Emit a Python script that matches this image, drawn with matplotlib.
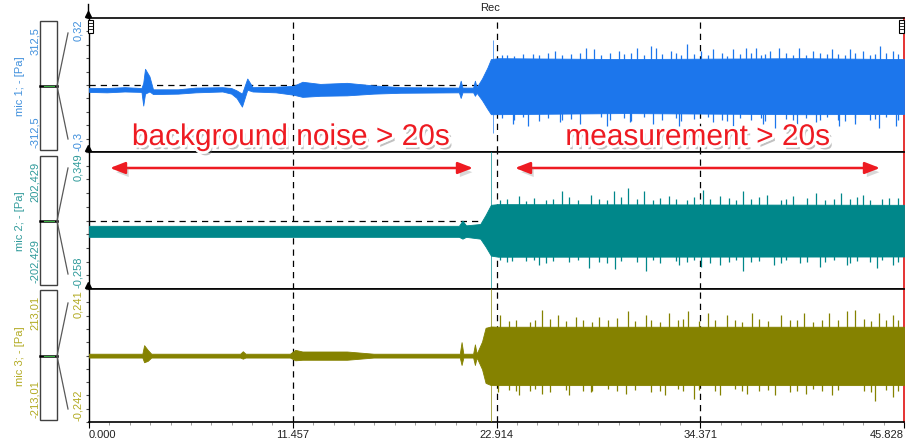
import matplotlib
matplotlib.use('Agg')
import matplotlib.pyplot as plt
import matplotlib.patheffects as pe
from matplotlib.ticker import AutoMinorLocator
import numpy as np

plt.rcParams['font.family'] = ['Liberation Sans', 'DejaVu Sans']

#------------------------- time axis
t_end = 45.828
x_ticks = [0.0, 11.457, 22.914, 34.371, 45.828]
x_labels = ['0.000', '11.457', '22.914', '34.371', '45.828']

#------------------------- channels
names = ['mic 1; - [Pa]', 'mic 2; - [Pa]', 'mic 3; - [Pa]']
y_top = [0.32, 0.349, 0.241]
y_bot = [-0.3, -0.258, -0.242]
top_labels = ['0,32', '0,349', '0,241']
bot_labels = ['-0,3', '-0,258', '-0,242']
scale_top = ['312,5', '202,429', '213,01']
scale_bot = ['-312,5', '-202,429', '-213,01']
colors = ['#1c76ec', '#00878a', '#858200']
label_colors = ['#3f8fdc', '#2f9a9a', '#b2aa22']

#------------------------- mic 1 envelope (time, upper, lower)
t1 = [0.0, 1.0, 2.0, 2.95, 3.05, 3.15, 3.4, 3.6, 5.0, 6.0, 7.5, 8.0, 8.3, 8.6, 8.9, 9.2,
      10.5, 11.5, 12.0, 13.0, 14.5, 16.0, 17.5, 20.8, 20.9, 21.0, 21.6, 21.7, 21.8,
      22.1, 22.4, 22.6, 23.0, 30.0, 40.0, 45.828]
up1 = [-0.003, -0.004, 0.0, -0.004, 0.02, 0.085, 0.05, -0.01, -0.01, -0.002, 0.0, -0.004,
       -0.015, -0.03, 0.04, 0.0, 0.002, 0.006, 0.025, 0.015, 0.02, 0.008, 0.0, -0.002,
       0.03, -0.002, -0.002, 0.03, 0.0, 0.04, 0.09, 0.13, 0.134, 0.13, 0.134, 0.13]
lo1 = [-0.022, -0.024, -0.02, -0.022, -0.085, -0.03, -0.02, -0.032, -0.03, -0.024, -0.02,
       -0.03, -0.05, -0.09, -0.012, -0.02, -0.024, -0.035, -0.045, -0.04, -0.038, -0.03,
       -0.026, -0.024, -0.05, -0.024, -0.024, -0.04, -0.026, -0.06, -0.1, -0.125, -0.125,
       -0.12, -0.125, -0.124]
sp1_t = [22.72, 23.5, 24.97, 26.2, 27.6, 27.96, 28.4, 29.8, 30.8, 31.6, 31.9, 32.7, 33.6,
         34.4, 35.1, 36.2, 36.95, 37.5, 38.3, 38.8, 39.95, 40.7, 41.8, 42.8, 43.5, 44.5, 45.2]
sp1_hi = [0.22, 0.15, 0.155, 0.167, 0.16, 0.18, 0.175, 0.167, 0.18, 0.19, 0.18, 0.167, 0.2,
          0.167, 0.175, 0.175, 0.18, 0.18, 0.167, 0.18, 0.18, 0.167, 0.175, 0.175, 0.167,
          0.19, 0.167]
sb1_t = [22.72, 23.84, 24.7, 26.5, 27.6, 29.1, 30.4, 31.7, 33.2, 35.1, 36.2, 37.9, 38.6,
         39.8, 40.9, 42.2, 43.1, 44.4, 45.4]
sb1_lo = [-0.21, -0.17, -0.18, -0.16, -0.17, -0.18, -0.16, -0.17, -0.18, -0.16, -0.18,
          -0.17, -0.19, -0.17, -0.16, -0.18, -0.17, -0.19, -0.18]
# smaller spikes that make the ragged edge
ft1 = [23.2, 23.9, 24.4, 25.3, 25.8, 26.6, 27.1, 28.8, 29.3, 30.1, 30.5, 31.2, 32.2, 33.0,
       33.3, 34.0, 34.8, 35.6, 35.9, 36.6, 37.2, 37.8, 38.0, 39.2, 39.6, 40.3, 41.1, 41.5,
       42.1, 42.5, 43.1, 43.9, 44.2, 44.8, 45.5]
fhi1 = [0.15, 0.145, 0.155, 0.15, 0.158, 0.148, 0.155, 0.15, 0.16, 0.152, 0.158, 0.15,
        0.155, 0.16, 0.148, 0.155, 0.15, 0.158, 0.145, 0.152, 0.16, 0.15, 0.155, 0.158,
        0.15, 0.148, 0.16, 0.152, 0.155, 0.15, 0.158, 0.15, 0.155, 0.16, 0.152]
flo1 = [-0.145, -0.15, -0.14, -0.155, -0.145, -0.15, -0.148, -0.14, -0.152, -0.145, -0.155,
        -0.14, -0.15, -0.145, -0.155, -0.148, -0.14, -0.15, -0.155, -0.145, -0.15, -0.142,
        -0.155, -0.148, -0.15, -0.145, -0.152, -0.14, -0.15, -0.155, -0.145, -0.15, -0.148,
        -0.14, -0.15]

#------------------------- mic 2
t2 = [0.0, 20.8, 21.0, 21.2, 22.0, 22.3, 22.6, 23.0, 45.828]
up2 = [0.022, 0.022, 0.045, 0.024, 0.03, 0.07, 0.115, 0.118, 0.115]
lo2 = [-0.027, -0.027, -0.035, -0.027, -0.035, -0.07, -0.11, -0.115, -0.114]
sp2_t = [22.62, 24.2, 26.6, 28.2, 29.5, 30.3, 31.2, 32.6, 34.5, 35.5, 36.8, 38.1, 39.6,
         40.9, 42.3, 43.5, 45.0]
sp2_hi = [0.4, 0.152, 0.174, 0.16, 0.174, 0.19, 0.174, 0.152, 0.18, 0.152, 0.174, 0.16,
          0.152, 0.167, 0.167, 0.16, 0.145]
sb2_t = [22.62, 23.8, 25.3, 28.1, 29.6, 31.3, 33.2, 34.4, 35.5, 36.8, 38.5, 40.0, 41.1,
         42.6, 44.3, 45.2]
sb2_lo = [-0.3, -0.136, -0.15, -0.165, -0.17, -0.18, -0.15, -0.16, -0.15, -0.18, -0.15,
          -0.145, -0.16, -0.15, -0.165, -0.15]
ft2 = [23.1, 23.5, 24.6, 25.0, 25.7, 26.1, 27.0, 27.5, 28.7, 29.1, 29.9, 30.8, 31.7, 32.1,
       33.0, 33.6, 34.0, 34.9, 36.0, 36.4, 37.2, 37.7, 38.9, 39.2, 40.4, 41.4, 41.9, 42.8,
       43.2, 43.9, 44.6, 45.5]
fhi2 = [0.135, 0.14, 0.13, 0.145, 0.135, 0.14, 0.15, 0.138, 0.142, 0.135, 0.148, 0.14,
        0.135, 0.145, 0.14, 0.135, 0.15, 0.14, 0.145, 0.135, 0.142, 0.15, 0.138, 0.14,
        0.145, 0.135, 0.142, 0.14, 0.148, 0.135, 0.14, 0.145]
flo2 = [-0.13, -0.14, -0.135, -0.13, -0.145, -0.135, -0.14, -0.13, -0.138, -0.145, -0.135,
        -0.14, -0.13, -0.142, -0.135, -0.14, -0.13, -0.145, -0.138, -0.13, -0.14, -0.135,
        -0.145, -0.13, -0.138, -0.14, -0.13, -0.145, -0.135, -0.14, -0.13, -0.138]

#------------------------- mic 3
t3 = [0.0, 3.0, 3.1, 3.3, 3.5, 8.5, 8.65, 8.8, 11.3, 11.6, 12.0, 14.5, 16.0, 20.85, 20.95,
      21.05, 21.6, 21.7, 21.8, 22.1, 22.3, 22.6, 23.0, 45.828]
up3 = [0.006, 0.006, 0.037, 0.02, 0.006, 0.006, 0.015, 0.006, 0.006, 0.02, 0.014, 0.014,
       0.006, 0.006, 0.048, 0.006, 0.006, 0.04, 0.006, 0.05, 0.1, 0.105, 0.104, 0.104]
lo3 = [-0.008, -0.008, -0.025, -0.02, -0.008, -0.008, -0.012, -0.008, -0.008, -0.018,
       -0.016, -0.016, -0.008, -0.008, -0.035, -0.008, -0.008, -0.035, -0.008, -0.05, -0.1,
       -0.108, -0.108, -0.108]
sp3_t = [22.62, 23.1, 25.5, 26.4, 27.4, 28.7, 30.3, 31.3, 32.6, 33.7, 34.8, 35.9, 37.3,
         38.9, 40.2, 41.6, 42.6, 43.1, 44.4, 45.2]
sp3_hi = [0.4, 0.147, 0.165, 0.147, 0.14, 0.14, 0.16, 0.147, 0.153, 0.16, 0.153, 0.147,
          0.153, 0.147, 0.153, 0.153, 0.16, 0.165, 0.153, 0.147]
sb3_t = [22.62, 23.0, 24.2, 25.5, 27.0, 28.2, 30.2, 32.4, 34.0, 35.5, 37.0, 38.6, 40.3,
         41.8, 44.2, 45.2]
sb3_lo = [-0.3, -0.132, -0.145, -0.14, -0.145, -0.132, -0.14, -0.145, -0.16, -0.145,
          -0.14, -0.145, -0.14, -0.145, -0.165, -0.15]
ft3 = [23.6, 24.0, 24.8, 25.1, 25.9, 26.8, 27.8, 28.3, 29.2, 29.7, 30.7, 31.6, 32.1, 33.1,
       33.4, 34.3, 35.2, 36.3, 36.7, 37.7, 38.2, 39.4, 39.8, 40.7, 41.2, 42.1, 43.6, 44.0,
       44.8, 45.5]
fhi3 = [0.125, 0.13, 0.122, 0.128, 0.132, 0.125, 0.13, 0.122, 0.128, 0.135, 0.125, 0.13,
        0.122, 0.128, 0.132, 0.125, 0.13, 0.128, 0.122, 0.132, 0.125, 0.13, 0.128, 0.122,
        0.13, 0.128, 0.132, 0.125, 0.13, 0.128]
flo3 = [-0.125, -0.13, -0.128, -0.122, -0.132, -0.125, -0.13, -0.128, -0.122, -0.13,
        -0.125, -0.132, -0.128, -0.122, -0.13, -0.125, -0.13, -0.122, -0.128, -0.13, -0.125,
        -0.132, -0.128, -0.122, -0.13, -0.125, -0.128, -0.132, -0.125, -0.13]

env = [(t1, up1, lo1, sp1_t, sp1_hi, sb1_t, sb1_lo, ft1, fhi1, flo1),
       (t2, up2, lo2, sp2_t, sp2_hi, sb2_t, sb2_lo, ft2, fhi2, flo2),
       (t3, up3, lo3, sp3_t, sp3_hi, sb3_t, sb3_lo, ft3, fhi3, flo3)]

W, H = 912, 443
fig = plt.figure(figsize=(W / 100, H / 100), dpi=100)
fig.patch.set_facecolor('white')

x0, x1 = 89, 904
panel_px = [(18, 152), (152, 289), (289, 422)]
axes = []
for i, (ptop, pbot) in enumerate(panel_px):
    ax = fig.add_axes([x0 / W, 1 - pbot / H, (x1 - x0) / W, (pbot - ptop) / H])
    t, up, lo, st, sh, bt, bl, ft, fhi, flo = env[i]
    c = colors[i]
    ax.fill_between(t, lo, up, color=c, lw=0.6, edgecolor=c, zorder=3)
    ax.vlines(ft, flo, fhi, color=c, lw=0.9, zorder=3)
    ax.vlines(st[1:], 0, sh[1:], color=c, lw=0.9, zorder=3)
    ax.vlines(bt[1:], bl[1:], 0, color=c, lw=0.9, zorder=3)
    # start transient, thin line
    ax.vlines(st[0], bl[0], sh[0], color=c, lw=0.7, alpha=0.7, zorder=3)
    dash = (0, (5, 4))
    ax.axhline((y_top[i] + y_bot[i]) / 2, color='k', ls=dash, lw=0.9, zorder=1)
    for xv in x_ticks[1:4]:
        ax.axvline(xv, color='k', ls=dash, lw=0.9, zorder=1)
    ax.set_xlim(0, t_end)
    ax.set_ylim(y_bot[i], y_top[i])
    ax.set_yticks(np.linspace(y_bot[i], y_top[i], 11))
    ax.set_yticklabels([])
    ax.tick_params(axis='y', length=2, width=0.8, color='0.3')
    for s in ['top', 'bottom']:
        ax.spines[s].set_linewidth(1.2)
    ax.spines['left'].set_linewidth(1.0)
    ax.spines['right'].set_color('#e01010')
    ax.spines['right'].set_linewidth(1.2)
    if i < 2:
        ax.set_xticks([])
    else:
        ax.set_xticks(x_ticks)
        ax.set_xticklabels(x_labels, fontsize=8, color='#222222')
        labs = ax.get_xticklabels()
        labs[0].set_ha('left')
        labs[-1].set_ha('right')
        ax.xaxis.set_minor_locator(AutoMinorLocator(10))
        ax.tick_params(axis='x', which='major', length=4, width=0.8, pad=2)
        ax.tick_params(axis='x', which='minor', length=2, width=0.6, color='0.55')
    axes.append(ax)

#------------------------- overlay for the frame decorations
ov = fig.add_axes([0, 0, 1, 1], facecolor='none')
ov.set_xlim(0, W)
ov.set_ylim(H, 0)
ov.axis('off')

ov.text(490, 8, 'Rec', fontsize=8, ha='center', va='center', color='#222222')

for i, (ptop, pbot) in enumerate(panel_px):
    mid = [86, 221, 356][i]
    btop, bbot = [(21, 150), (156, 285), (290, 420)][i]
    ov.add_patch(plt.Rectangle((40, btop), 17, bbot - btop, fill=False, ec='0.25', lw=1))
    ov.plot([40, 57], [mid, mid], color='k', lw=1.8)
    ov.plot([44, 54], [mid, mid], color='#3cb043', lw=0.8)
    ov.plot([57, 68], [mid, mid - 53], color='0.35', lw=0.9)
    ov.plot([57, 68], [mid, mid + 53], color='0.35', lw=0.9)
    lc = label_colors[i]
    ov.text(20, mid, names[i], rotation=90, fontsize=8, color=lc, ha='center', va='center')
    ov.text(35, btop + 6, scale_top[i], rotation=90, fontsize=8, color=lc, ha='center', va='top')
    ov.text(35, bbot - 2, scale_bot[i], rotation=90, fontsize=8, color=lc, ha='center', va='bottom')
    ov.text(78, ptop + 1, top_labels[i], rotation=90, fontsize=8, color=lc, ha='center', va='top')
    ov.text(78, pbot - 1, bot_labels[i], rotation=90, fontsize=8, color=lc, ha='center', va='bottom')
    ov.plot([88], [ptop - 4], marker='^', color='k', ms=4)

ov.plot([88, 88], [4, 14], color='k', lw=1)
for xi in [88, 899]:
    ov.add_patch(plt.Rectangle((xi, 20), 5, 13, fill=True, fc='white', ec='k', lw=0.8))
    for yy in [23, 26, 29]:
        ov.plot([xi + 1, xi + 4], [yy, yy], color='k', lw=0.6)

#------------------------- annotations
red = '#ee1b22'
glow = [pe.SimplePatchShadow(offset=(2, -3), shadow_rgbFace='0.4', alpha=0.4),
        pe.withStroke(linewidth=4, foreground='white')]
ov.text(291, 137, 'background noise > 20s', fontsize=21.5, color=red, ha='center',
        va='center', path_effects=glow)
ov.text(698, 137, 'measurement > 20s', fontsize=21.5, color=red, ha='center',
        va='center', path_effects=glow)
arrow_fx = [pe.SimplePatchShadow(offset=(2, -3), shadow_rgbFace='0.5', alpha=0.3), pe.Normal()]
for xa, xb in [(110, 473), (515, 880)]:
    ov.annotate('', xy=(xa, 168), xytext=(xb, 168),
                arrowprops=dict(arrowstyle='<|-|>,head_length=0.9,head_width=0.35',
                                color=red, lw=1.8, shrinkA=0, shrinkB=0,
                                path_effects=arrow_fx))

fig.savefig('out.png', dpi=100)
